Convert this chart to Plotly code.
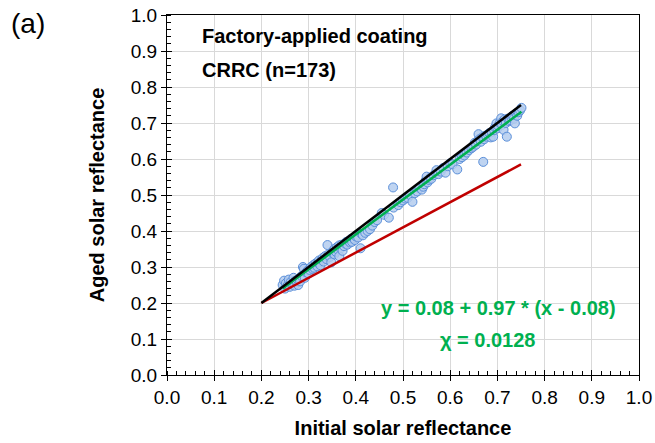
import plotly.graph_objects as go

# Scatter data: (initial, aged) solar reflectance
initial = [
    0.245, 0.248, 0.250, 0.252, 0.255, 0.258, 0.260, 0.262, 0.265, 0.268,
    0.270, 0.272, 0.275, 0.278, 0.280, 0.282, 0.285, 0.288, 0.290, 0.292,
    0.295, 0.298, 0.300, 0.302, 0.305, 0.308, 0.310, 0.312, 0.315, 0.318,
    0.320, 0.322, 0.325, 0.328, 0.330, 0.332, 0.335, 0.338, 0.340, 0.342,
    0.345, 0.348, 0.350, 0.352, 0.355, 0.355, 0.358, 0.360, 0.362, 0.365,
    0.365, 0.368, 0.370, 0.372, 0.375, 0.378, 0.380, 0.382, 0.385, 0.388,
    0.390, 0.392, 0.395, 0.398, 0.400, 0.405, 0.410, 0.412, 0.415, 0.420,
    0.425, 0.430,
    0.435, 0.440, 0.445, 0.455, 0.460, 0.470, 0.479, 0.480, 0.490, 0.495,
    0.500, 0.505, 0.510, 0.515, 0.520,
    0.525, 0.530, 0.535, 0.540, 0.543, 0.545, 0.548, 0.550, 0.552, 0.555,
    0.558, 0.560, 0.565, 0.570, 0.571, 0.575, 0.580, 0.585, 0.590, 0.595,
    0.600, 0.605, 0.615, 0.620, 0.625,
    0.630, 0.635, 0.640, 0.645, 0.649, 0.652, 0.655, 0.658, 0.660, 0.662,
    0.665, 0.668, 0.670, 0.672, 0.675, 0.677, 0.680, 0.683, 0.686, 0.688,
    0.691, 0.693, 0.695, 0.698, 0.700, 0.702, 0.705, 0.708, 0.710, 0.712,
    0.713, 0.715, 0.718, 0.720, 0.722, 0.725, 0.727, 0.730, 0.732, 0.735,
    0.737, 0.740, 0.742, 0.745, 0.748, 0.751,
]
aged = [
    0.250, 0.262, 0.240, 0.255, 0.248, 0.265, 0.245, 0.258, 0.252, 0.270,
    0.248, 0.262, 0.258, 0.250, 0.268, 0.260, 0.275, 0.300, 0.295, 0.270,
    0.285, 0.290, 0.282, 0.292, 0.300, 0.295, 0.305, 0.298, 0.310, 0.302,
    0.312, 0.318, 0.305, 0.320, 0.325, 0.315, 0.330, 0.322, 0.361, 0.335,
    0.328, 0.313, 0.340, 0.345, 0.335, 0.350, 0.342, 0.355, 0.348, 0.330,
    0.360, 0.352, 0.362, 0.345, 0.358, 0.365, 0.370, 0.362, 0.372, 0.368,
    0.378, 0.370, 0.380, 0.375, 0.385, 0.382, 0.352, 0.392, 0.388, 0.395,
    0.400, 0.405,
    0.415, 0.425, 0.430, 0.450, 0.445, 0.437, 0.521, 0.465, 0.472, 0.480,
    0.485, 0.490, 0.492, 0.500, 0.481,
    0.505, 0.510, 0.520, 0.515, 0.523, 0.530, 0.540, 0.551, 0.535, 0.542,
    0.548, 0.545, 0.555, 0.560, 0.569, 0.558, 0.565, 0.575, 0.562, 0.580,
    0.588, 0.585, 0.571, 0.600, 0.605,
    0.610, 0.618, 0.625, 0.630, 0.634, 0.645, 0.640, 0.650, 0.669, 0.655,
    0.648, 0.660, 0.592, 0.655, 0.665, 0.662, 0.668, 0.672, 0.660, 0.675,
    0.662, 0.680, 0.688, 0.699, 0.685, 0.692, 0.700, 0.713, 0.695, 0.705,
    0.681, 0.710, 0.700, 0.662, 0.712, 0.705, 0.708, 0.715, 0.720, 0.712,
    0.699, 0.727, 0.720, 0.730, 0.735, 0.742,
]

# Reference lines (endpoints)
one_to_one_x = [0.20, 0.75]
one_to_one_y = [0.20, 0.75]
red_x = [0.20, 0.75]
red_y = [0.20, 0.585]
fit_x = [0.245, 0.751]
fit_y = [0.240, 0.731]

x_ticks = [0.0, 0.1, 0.2, 0.3, 0.4, 0.5, 0.6, 0.7, 0.8, 0.9, 1.0]
y_ticks = [0.0, 0.1, 0.2, 0.3, 0.4, 0.5, 0.6, 0.7, 0.8, 0.9, 1.0]

FONT = "Arial, Liberation Sans, sans-serif"
TICK_SIZE = 19
TEXT_SIZE = 20

fig = go.Figure()
fig.add_trace(go.Scatter(
    x=initial, y=aged, mode="markers",
    marker=dict(size=9, color="rgba(180,204,238,0.85)",
                line=dict(color="#5b8fd9", width=1)),
    showlegend=False, hoverinfo="skip"))
fig.add_trace(go.Scatter(x=red_x, y=red_y, mode="lines",
                         line=dict(color="#c00000", width=2.5), showlegend=False))
fig.add_trace(go.Scatter(x=fit_x, y=fit_y, mode="lines",
                         line=dict(color="#00b050", width=2.5), showlegend=False))
fig.add_trace(go.Scatter(x=one_to_one_x, y=one_to_one_y, mode="lines",
                         line=dict(color="#000000", width=2.5), showlegend=False))

axis_common = dict(
    range=[0, 1], showline=True, linecolor="#000000", linewidth=1.3, mirror=True,
    showgrid=True, gridcolor="#d9d9d9", gridwidth=1, zeroline=False,
    ticks="outside", ticklen=5, tickcolor="#000000", tickwidth=1, automargin=False,
    tickformat=".1f", tickfont=dict(family=FONT, size=TICK_SIZE, color="#000000"),
    minor=dict(dtick=0.02, ticks="inside", ticklen=4, tickcolor="#000000",
               tickwidth=1, showgrid=False),
)
fig.update_layout(
    xaxis=dict(**axis_common, tickvals=x_ticks,
               title=dict(text="<b>Initial solar reflectance</b>",
                          font=dict(family=FONT, size=TEXT_SIZE, color="#000000"),
                          standoff=14)),
    yaxis=dict(**axis_common, tickvals=y_ticks,
               title=dict(text="<b>Aged solar reflectance</b>",
                          font=dict(family=FONT, size=TEXT_SIZE, color="#000000"),
                          standoff=20)),
    # overlay axes drawing the inner half of the major ticks
    xaxis2=dict(overlaying="x", anchor="y", side="bottom", range=[0, 1],
                tickvals=x_ticks, ticks="inside", ticklen=5, tickcolor="#000000",
                showticklabels=False, showgrid=False, showline=False, zeroline=False),
    yaxis2=dict(overlaying="y", anchor="x", side="left", range=[0, 1],
                tickvals=y_ticks, ticks="inside", ticklen=5, tickcolor="#000000",
                showticklabels=False, showgrid=False, showline=False, zeroline=False),
)
fig.add_trace(go.Scatter(x=[None], y=[None], xaxis="x2", yaxis="y2",
                         showlegend=False, hoverinfo="skip"))

fig.update_layout(
    width=655, height=443,
    margin=dict(l=167, r=16, t=15, b=68),
    plot_bgcolor="white", paper_bgcolor="white",
    font=dict(family=FONT),
    annotations=[
        dict(text="(a)", xref="paper", yref="paper", x=-0.335, y=1.025,
             xanchor="left", yanchor="top", showarrow=False,
             font=dict(family=FONT, size=28, color="#000000")),
        dict(text="<b>Factory-applied coating</b>", x=0.07, y=0.942,
             xref="x", yref="y", xanchor="left", yanchor="middle", showarrow=False,
             font=dict(family=FONT, size=TEXT_SIZE, color="#000000")),
        dict(text="<b>CRRC (n=173)</b>", x=0.07, y=0.847,
             xref="x", yref="y", xanchor="left", yanchor="middle", showarrow=False,
             font=dict(family=FONT, size=TEXT_SIZE, color="#000000")),
        dict(text="<b>y = 0.08 + 0.97 * (x - 0.08)</b>", x=0.703, y=0.186,
             xref="x", yref="y", xanchor="center", yanchor="middle", showarrow=False,
             font=dict(family=FONT, size=TEXT_SIZE, color="#00b050")),
        dict(text="<b>χ = 0.0128</b>", x=0.679, y=0.097,
             xref="x", yref="y", xanchor="center", yanchor="middle", showarrow=False,
             font=dict(family=FONT, size=TEXT_SIZE, color="#00b050")),
    ],
)

fig.write_html("out.html")
